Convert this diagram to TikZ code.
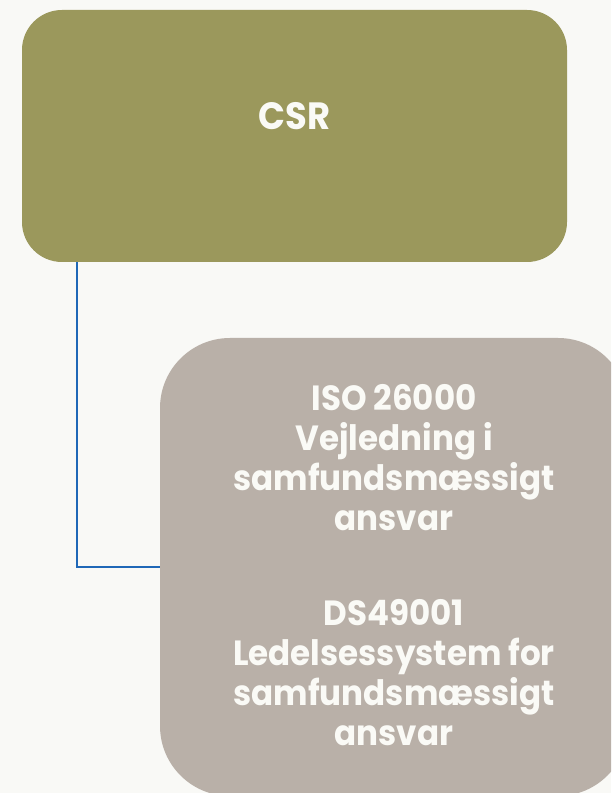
\documentclass[tikz,border=0pt]{standalone}
\usepackage{fontspec}
\setmainfont{Poppins}[FakeStretch=0.93]
\usetikzlibrary{positioning}

\definecolor{csrolive}{RGB}{155,152,92}
\definecolor{isotaupe}{RGB}{185,176,168}
\definecolor{pagebg}{RGB}{249,249,246}
\definecolor{linkblue}{RGB}{31,104,183}
\definecolor{labelwhite}{RGB}{250,250,246}

\begin{document}
\begin{tikzpicture}[x=1pt,y=1pt,
    topbox/.style={fill=csrolive, rounded corners=40pt, minimum width=545pt,
        minimum height=252pt, inner sep=0pt},
    subbox/.style={fill=isotaupe, rounded corners=70pt, minimum width=468pt,
        minimum height=458pt, inner sep=0pt, text width=440pt, align=center},
    boxtext/.style={text=labelwhite, font=\bfseries\fontsize{35}{40}\selectfont},
    link/.style={draw=linkblue, line width=2.2pt}]
            % Page
            \useasboundingbox (0,0) rectangle (611,793);
            \fill[pagebg] (0,0) rectangle (611,793);
            \clip (0,0) rectangle (611,793);

            % CSR box
            \node[topbox] (csr) at (294.5,657) {};
            \node[boxtext, font=\bfseries\fontsize{38}{40}\selectfont] (csrlabel)
                at ([yshift=20pt]csr.center) {CSR};

            % Standards box
            \node[subbox] (iso) at (394,226) {};
            \node[boxtext, align=center] (isolabel) at ([yshift=2pt]iso.center)
                {ISO 26000\\Vejledning i\\samfundsmæssigt\\ansvar\\[55pt]
                 DS49001\\Ledelsessystem for\\samfundsmæssigt\\ansvar};

            % Connector
            \draw[link] ([xshift=55pt]csr.south west) |- (iso.west);
        \end{tikzpicture}
\end{document}
